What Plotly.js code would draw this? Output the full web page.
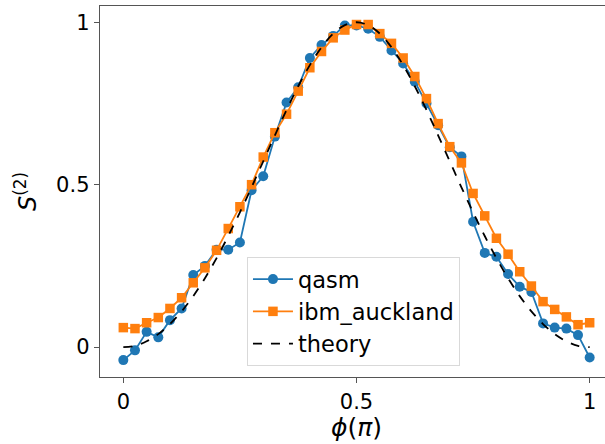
<!DOCTYPE html>
<html>
<head>
<meta charset="utf-8">
<script src="https://cdn.plot.ly/plotly-3.0.1.min.js"></script>
<style>
html,body{margin:0;padding:0;overflow:hidden;background:#fff;width:605px;height:444px;}
#chart{width:613px;height:444px;}
</style>
</head>
<body>
<div id="chart"></div>
<script>
// phi in units of pi
const phi = [0,0.025,0.05,0.075,0.1,0.125,0.15,0.175,0.2,0.225,0.25,0.275,0.3,0.325,0.35,0.375,0.4,0.425,0.45,0.475,0.5,
             0.525,0.55,0.575,0.6,0.625,0.65,0.675,0.7,0.725,0.75,0.775,0.8,0.825,0.85,0.875,0.9,0.925,0.95,0.975,1];
const qasm = [-0.04,-0.01,0.047,0.03,0.083,0.119,0.222,0.25,0.30,0.30,0.322,0.483,0.526,0.648,0.753,0.80,0.89,0.93,0.958,0.99,0.99,
              0.98,0.955,0.913,0.873,0.817,0.75,0.683,0.615,0.587,0.386,0.29,0.278,0.225,0.186,0.17,0.073,0.06,0.057,0.037,-0.032];
const ibm = [0.06,0.057,0.075,0.091,0.119,0.152,0.198,0.244,0.298,0.365,0.432,0.50,0.585,0.66,0.717,0.788,0.86,0.91,0.952,0.976,0.993,
             0.993,0.965,0.935,0.89,0.833,0.765,0.688,0.617,0.567,0.473,0.404,0.335,0.286,0.232,0.188,0.14,0.116,0.093,0.069,0.075];
const theory = [0,0.004,0.018,0.040,0.071,0.110,0.157,0.212,0.274,0.342,0.415,0.492,0.572,0.652,0.730,0.803,0.868,0.923,0.965,0.991,1,
                0.991,0.965,0.923,0.868,0.803,0.730,0.652,0.572,0.492,0.415,0.342,0.274,0.212,0.157,0.110,0.071,0.040,0.018,0.004,0];
const xTicks = [0,0.5,1];
const xTickText = ['0','0.5','1'];
const yTicks = [0,0.5,1];
const yTickText = ['0','0.5','1'];

const font = {family:'DejaVu Sans, sans-serif', color:'#000'};
const traces = [
  {x:phi, y:qasm, name:'qasm', mode:'lines+markers', line:{color:'#1f77b4', width:1.8},
   marker:{symbol:'circle', size:10, color:'#1f77b4'}},
  {x:phi, y:ibm, name:'ibm_auckland', mode:'lines+markers', line:{color:'#ff7f0e', width:1.8},
   marker:{symbol:'square', size:9.5, color:'#ff7f0e'}},
  {x:phi, y:theory, name:'theory', mode:'lines', line:{color:'#000', width:1.8, dash:'dash', shape:'spline'}}
];
const layout = {
  width:613, height:444,
  margin:{l:100, r:0, t:6, b:67},
  paper_bgcolor:'#fff', plot_bgcolor:'#fff',
  font:Object.assign({size:21}, font),
  showlegend:true,
  legend:{x:0.2865, y:0.3235, xanchor:'left', yanchor:'top', bgcolor:'rgba(255,255,255,0.85)',
          bordercolor:'#d9d9d9', borderwidth:1, font:Object.assign({size:22.5}, font), tracegroupgap:0,
          itemwidth:40},
  xaxis:{range:[-0.05,1.05], tickvals:xTicks, ticktext:xTickText, showgrid:false, zeroline:false,
         showline:true, mirror:true, linecolor:'#555', linewidth:1.3, ticks:'outside', ticklen:5,
         tickcolor:'#555', tickfont:Object.assign({size:21}, font),
         title:{text:'<i>ϕ</i>(<i>π</i>)', font:Object.assign({size:25}, font), standoff:6}},
  yaxis:{range:[-0.092,1.05], tickvals:yTicks, ticktext:yTickText, showgrid:false, zeroline:false,
         showline:true, mirror:true, linecolor:'#555', linewidth:1.3, ticks:'outside', ticklen:5,
         tickcolor:'#555', tickfont:Object.assign({size:21}, font),
         title:{text:'<i>S</i><sup>(2)</sup>', font:Object.assign({size:24}, font), standoff:12}}
};
Plotly.newPlot('chart', traces, layout, {displayModeBar:false, staticPlot:true});
</script>
</body>
</html>
